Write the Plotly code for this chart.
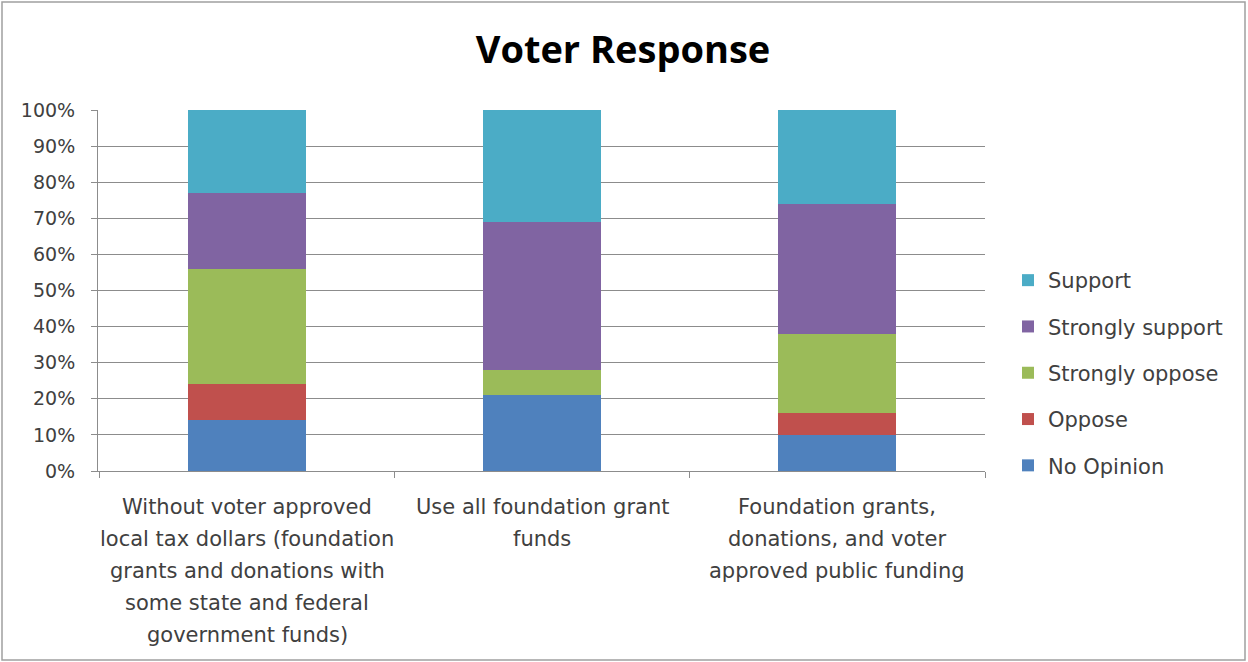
import plotly.graph_objects as go

category_lines = [
    ["Without voter approved", "local tax dollars (foundation", "grants and donations with",
     "some state and federal", "government funds)"],
    ["Use all foundation grant", "funds"],
    ["Foundation grants,", "donations, and voter", "approved public funding"],
]
categories = [" ".join(lines) for lines in category_lines]
no_opinion = [14, 21, 10]
oppose = [10, 0, 6]
strongly_oppose = [32, 7, 22]
strongly_support = [21, 41, 36]
support = [23, 31, 26]

series = [
    ("No Opinion", no_opinion, "#4F81BD"),
    ("Oppose", oppose, "#C0504D"),
    ("Strongly oppose", strongly_oppose, "#9BBB59"),
    ("Strongly support", strongly_support, "#8064A2"),
    ("Support", support, "#4BACC6"),
]

FONT = "DejaVu Sans, Open Sans, sans-serif"
TFONT = "Open Sans, DejaVu Sans, sans-serif"
fig = go.Figure()
n = len(series)
for i, (name, vals, col) in enumerate(series):
    fig.add_trace(go.Bar(x=categories, y=vals, name=name, marker_color=col,
                         marker_line_width=0, legendgroup=str(i),
                         legendrank=n - i))

L, R, T, B = 98, 263, 110, 191
W, H = 1248, 662
pw, ph = W - L - R, H - T - B

fig.update_layout(
    width=W, height=H, barmode="stack", bargap=0.6,
    margin=dict(l=L, r=R, t=T, b=B),
    paper_bgcolor="white", plot_bgcolor="white",
    font=dict(family=FONT, color="#404040"),
    title=dict(text="<b>Voter Response</b>", x=(623 - L) / pw, xref="paper", xanchor="center",
               y=1 - 50 / H, yanchor="middle",
               font=dict(size=38, color="black", family=TFONT)),
    legend=dict(x=(1008 - L) / pw, xanchor="left", y=(H - B - 260) / ph, yanchor="top",
                traceorder="grouped", tracegroupgap=16,
                font=dict(size=21, color="#404040"), itemwidth=30),
    showlegend=True,
)
fig.update_yaxes(range=[0, 100], tickvals=list(range(0, 101, 10)),
                 ticktext=[f"{v}%" for v in range(0, 101, 10)],
                 showgrid=True, gridcolor="#8c8c8c", gridwidth=1,
                 showline=True, linecolor="#8c8c8c", ticks="outside", ticklen=6,
                 tickcolor="#8c8c8c", tickfont=dict(size=19, color="#404040"),
                 ticklabelstandoff=12, zeroline=False)
fig.update_xaxes(showline=True, linecolor="#8c8c8c", ticks="outside", ticklen=6,
                 tickcolor="#8c8c8c", tickson="boundaries", showticklabels=False)

for cat, lines in zip(categories, category_lines):
    for j, line in enumerate(lines):
        fig.add_annotation(x=cat, xref="x", y=0, yref="paper", text=line,
                           showarrow=False, xanchor="center", yanchor="middle",
                           yshift=-(36 + 32 * j),
                           font=dict(size=21, color="#404040", family=FONT))

fig.add_shape(type="rect", xref="paper", yref="paper",
              x0=-(L - 2) / pw, x1=1 + (R - 3) / pw,
              y0=-(B - 2) / ph, y1=1 + (T - 2) / ph,
              line=dict(color="#a0a0a0", width=1.5), fillcolor="rgba(0,0,0,0)")

fig.write_html("out.html")
